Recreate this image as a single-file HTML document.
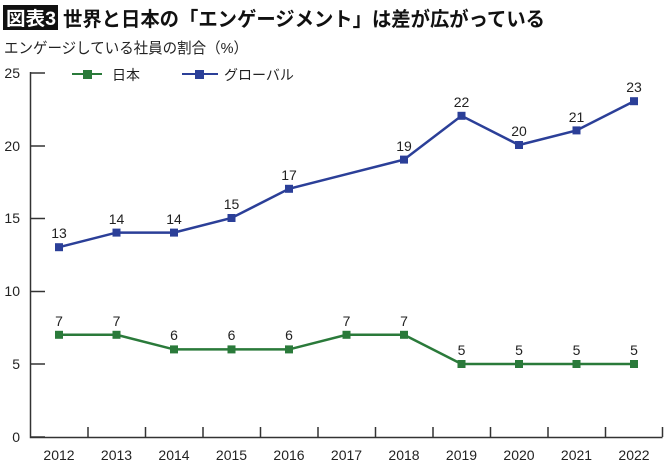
<!DOCTYPE html>
<html><head><meta charset="utf-8"><style>
body{margin:0;background:#fff}
svg{display:block;font-family:"Liberation Sans","Noto Sans CJK JP",sans-serif}
</style></head><body>
<svg width="670" height="465" viewBox="0 0 670 465" xmlns="http://www.w3.org/2000/svg">
<rect x="3" y="5" width="55" height="25" fill="#111"/>
<text x="6" y="25" font-size="19" font-weight="bold" fill="#fff" textLength="50" lengthAdjust="spacingAndGlyphs">図表3</text>
<text x="63" y="26" font-size="20" font-weight="bold" fill="#111" textLength="482" lengthAdjust="spacingAndGlyphs">世界と日本の「エンゲージメント」は差が広がっている</text>
<text x="4" y="53" font-size="15" fill="#222" textLength="244" lengthAdjust="spacingAndGlyphs">エンゲージしている社員の割合（%）</text>
<g stroke="#333" stroke-width="1.5" fill="none">
<path d="M30.5 72V437.5H662.5"/>
<path d="M30 73H45M30 146H45M30 218.5H45M30 291.5H45M30 364H45M30 437H45"/>
<path d="M88 437V427M145.5 437V427M203 437V427M260.5 437V427M318 437V427M375.5 437V427M433 437V427M490.5 437V427M548 437V427M605.5 437V427M662.5 437V427"/>
</g>
<g font-size="14" fill="#222" text-anchor="end">
<text x="20" y="442">0</text><text x="20" y="369">5</text><text x="20" y="296">10</text><text x="20" y="223">15</text><text x="20" y="151">20</text><text x="20" y="78">25</text>
</g>
<g font-size="14" fill="#222" text-anchor="middle">
<text x="59" y="460">2012</text><text x="116.5" y="460">2013</text><text x="174" y="460">2014</text><text x="231.5" y="460">2015</text><text x="289" y="460">2016</text><text x="346.5" y="460">2017</text><text x="404" y="460">2018</text><text x="461.5" y="460">2019</text><text x="519" y="460">2020</text><text x="576.5" y="460">2021</text><text x="634" y="460">2022</text>
</g>
<!-- legend -->
<path d="M72 74H102" stroke="#2a7a3a" stroke-width="2"/><rect x="83" y="70" width="9" height="9" fill="#2a7a3a"/>
<text x="112" y="80" font-size="14" fill="#222">日本</text>
<path d="M182 74H218" stroke="#2b3f98" stroke-width="2"/><rect x="195" y="70" width="9" height="9" fill="#2b3f98"/>
<text x="224" y="80" font-size="14" fill="#222">グローバル</text>
<!-- global -->
<polyline fill="none" stroke="#2b3f98" stroke-width="2.5" points="59,247.2 116.5,232.6 174,232.6 231.5,218 289,188.8 346.5,174.2 404,159.6 461.5,115.8 519,145 576.5,130.4 634,101.2"/>
<g fill="#2b3f98">
<rect x="55" y="243.2" width="8" height="8"/><rect x="112.5" y="228.6" width="8" height="8"/><rect x="170" y="228.6" width="8" height="8"/><rect x="227.5" y="214" width="8" height="8"/><rect x="285" y="184.8" width="8" height="8"/><rect x="400" y="155.6" width="8" height="8"/><rect x="457.5" y="111.8" width="8" height="8"/><rect x="515" y="141" width="8" height="8"/><rect x="572.5" y="126.4" width="8" height="8"/><rect x="630" y="97.2" width="8" height="8"/>
</g>
<g font-size="14" fill="#222" text-anchor="middle">
<text x="59" y="238">13</text><text x="116.5" y="224">14</text><text x="174" y="224">14</text><text x="231.5" y="209">15</text><text x="289" y="180">17</text><text x="404" y="151">19</text><text x="461.5" y="107">22</text><text x="519" y="136">20</text><text x="576.5" y="122">21</text><text x="634" y="92">23</text>
</g>
<!-- japan -->
<polyline fill="none" stroke="#2a7a3a" stroke-width="2.5" points="59,334.8 116.5,334.8 174,349.4 231.5,349.4 289,349.4 346.5,334.8 404,334.8 461.5,364 519,364 576.5,364 634,364"/>
<g fill="#2a7a3a">
<rect x="55" y="330.8" width="8" height="8"/><rect x="112.5" y="330.8" width="8" height="8"/><rect x="170" y="345.4" width="8" height="8"/><rect x="227.5" y="345.4" width="8" height="8"/><rect x="285" y="345.4" width="8" height="8"/><rect x="342.5" y="330.8" width="8" height="8"/><rect x="400" y="330.8" width="8" height="8"/><rect x="457.5" y="360" width="8" height="8"/><rect x="515" y="360" width="8" height="8"/><rect x="572.5" y="360" width="8" height="8"/><rect x="630" y="360" width="8" height="8"/>
</g>
<g font-size="14" fill="#222" text-anchor="middle">
<text x="59" y="326">7</text><text x="116.5" y="326">7</text><text x="174" y="340">6</text><text x="231.5" y="340">6</text><text x="289" y="340">6</text><text x="346.5" y="326">7</text><text x="404" y="326">7</text><text x="461.5" y="355">5</text><text x="519" y="355">5</text><text x="576.5" y="355">5</text><text x="634" y="355">5</text>
</g>
</svg>
</body></html>
